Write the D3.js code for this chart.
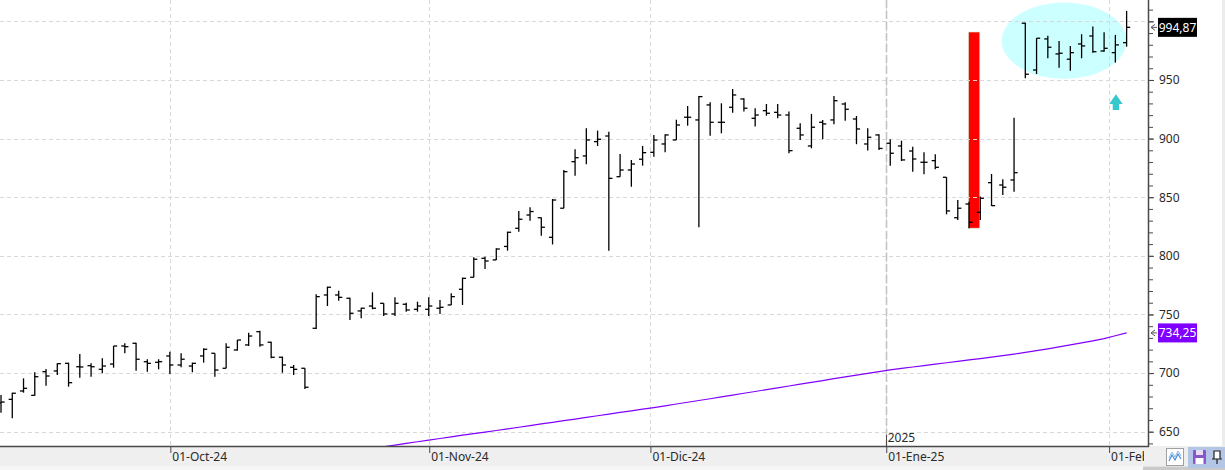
<!DOCTYPE html>
<html><head><meta charset="utf-8">
<script src="https://cdn.jsdelivr.net/npm/d3@7"></script>
<style>html,body{margin:0;padding:0;background:#fff;overflow:hidden}</style>
</head><body>
<svg id="c" width="1225" height="470"></svg>
<script>
// ---------- DATA ----------
const dates = [
"2024-09-10","2024-09-11","2024-09-12","2024-09-13","2024-09-16","2024-09-17","2024-09-18","2024-09-19","2024-09-20","2024-09-23",
"2024-09-24","2024-09-25","2024-09-26","2024-09-27","2024-09-30","2024-10-01","2024-10-02","2024-10-03","2024-10-04","2024-10-07",
"2024-10-08","2024-10-09","2024-10-10","2024-10-11","2024-10-14","2024-10-15","2024-10-16","2024-10-17","2024-10-18","2024-10-21",
"2024-10-22","2024-10-23","2024-10-24","2024-10-25","2024-10-28","2024-10-29","2024-10-30","2024-10-31","2024-11-01","2024-11-04",
"2024-11-05","2024-11-06","2024-11-07","2024-11-08","2024-11-11","2024-11-12","2024-11-13","2024-11-14","2024-11-15","2024-11-18",
"2024-11-19","2024-11-20","2024-11-21","2024-11-22","2024-11-25","2024-11-26","2024-11-27","2024-11-29","2024-12-02","2024-12-03",
"2024-12-04","2024-12-05","2024-12-06","2024-12-09","2024-12-10","2024-12-11","2024-12-12","2024-12-13","2024-12-16","2024-12-17",
"2024-12-18","2024-12-19","2024-12-20","2024-12-23","2024-12-24","2024-12-26","2024-12-27","2024-12-30","2024-12-31","2025-01-02",
"2025-01-03","2025-01-06","2025-01-07","2025-01-08","2025-01-10","2025-01-13","2025-01-14","2025-01-15","2025-01-16","2025-01-17",
"2025-01-21","2025-01-22","2025-01-23","2025-01-24","2025-01-27","2025-01-28","2025-01-29","2025-01-30","2025-01-31","2025-02-03",
"2025-02-04"];

const openV = [674.5,677.6,684.7,681.0,701.2,701.8,708.3,705.4,706.3,703.2,
707.7,723.1,725.4,709.7,709.2,714.6,706.9,706.0,714.6,716.9,
704.1,719.7,724.0,735.3,726.3,713.5,704.9,704.1,738.2,766.6,
766.6,763.8,753.0,757.2,759.5,750.4,758.7,754.4,754.4,755.3,
758.1,771.5,781.7,797.9,796.5,808.0,823.5,834.8,832.5,815.8,
840.6,880.3,885.2,897.4,902.2,867.5,873.2,882.4,888.3,895.4,
898.8,918.2,915.9,928.7,913.9,926.7,933.8,917.3,923.8,922.4,
920.1,908.8,893.7,913.9,915.9,929.5,916.7,895.4,903.1,896.0,
893.7,889.4,879.8,881.2,867.0,832.5,844.2,837.1,862.4,860.4,
864.7,998.4,958.5,985.0,972.2,967.7,980.7,987.5,974.7,973.3,
981.8];

const highV = [681.3,683.3,695.5,700.7,703.5,708.3,708.9,716.3,708.3,712.6,
723.1,725.4,725.9,711.8,711.8,718.2,716.9,708.9,721.1,716.9,
725.4,728.2,734.4,736.2,726.8,714.0,706.9,704.1,767.2,773.7,
770.3,764.3,755.8,768.9,759.5,764.6,760.0,760.9,764.6,762.3,
768.1,781.4,798.8,799.3,806.4,820.6,838.3,841.4,832.7,848.5,
873.2,890.9,908.8,906.8,905.9,886.9,881.8,893.7,903.1,903.8,
916.1,927.8,936.4,931.0,930.1,942.3,934.4,925.9,929.5,929.5,
923.0,913.1,921.0,915.9,936.4,931.0,919.3,908.8,903.8,899.4,
898.2,893.1,888.3,886.6,867.0,847.6,846.2,850.5,869.8,865.3,
917.8,998.9,985.6,987.8,983.3,979.0,989.0,995.5,990.7,988.4,
1008.9];

const lowV = [666.2,661.4,683.3,680.7,689.2,698.4,688.4,696.1,696.9,699.8,
704.6,716.9,702.0,701.2,703.2,699.2,704.9,700.7,708.9,696.9,
704.1,719.1,723.1,722.5,712.6,700.3,698.4,686.4,737.6,757.2,
761.7,745.3,746.7,754.4,748.7,748.7,752.4,752.4,748.7,750.4,
758.1,758.1,781.7,788.8,796.5,804.4,820.6,830.0,817.2,809.7,
840.6,868.4,878.1,893.7,804.4,867.5,859.0,876.9,884.6,888.3,
898.8,911.0,824.4,902.5,904.5,922.1,923.0,910.2,919.5,917.3,
887.5,898.8,891.7,899.4,912.2,915.3,895.2,889.9,890.3,876.9,
880.9,871.8,869.6,873.8,835.4,830.6,823.5,830.6,842.5,851.9,
854.7,951.5,955.1,968.5,960.5,957.9,968.5,973.3,974.1,964.8,
978.4];

const closeV = [675.3,682.8,687.0,696.9,697.5,708.0,691.8,705.2,705.4,706.0,
723.1,722.5,711.8,708.3,709.7,706.9,711.8,708.3,720.3,702.6,
722.0,728.2,731.6,724.0,713.5,706.9,703.2,687.9,765.2,773.2,
764.6,751.0,755.3,755.3,750.4,759.5,753.8,757.2,757.2,756.1,
765.2,780.8,797.1,795.6,805.8,820.1,831.2,837.8,824.4,847.6,
871.8,883.7,898.8,899.4,866.1,873.2,878.3,888.0,898.8,903.1,
911.6,918.2,935.8,913.9,913.9,937.2,925.9,920.1,921.6,920.1,
889.7,903.1,909.7,912.5,932.3,925.0,908.2,901.1,891.6,887.5,
881.8,882.6,879.8,875.5,838.3,840.6,828.6,849.1,842.8,858.5,
870.9,954.9,985.6,977.9,972.8,973.3,979.0,974.1,977.0,979.9,
994.87];

// moving average (visible part, starting at bar index maStart)
const maStart = 34;
const maV = [637.2,638.6,640.0,641.4,642.8,644.2,645.6,647.0,648.4,649.7,
651.0,652.4,653.8,655.2,656.6,658.0,659.4,660.8,662.2,663.6,
665.0,666.4,667.8,669.2,670.6,672.1,673.6,675.1,676.6,678.1,
679.7,681.2,682.8,684.3,685.9,687.4,689.0,690.5,692.1,693.6,
695.2,696.7,698.2,699.7,701.2,702.8,704.0,705.2,706.4,707.6,
708.8,710.0,711.2,712.4,713.6,714.9,716.2,717.6,719.1,720.7,
722.3,724.0,725.7,727.5,729.4,731.8,734.25];

const yTickValues = [650,700,750,800,850,900,950,1000];
const yLabelValues = [650,700,750,800,850,900,950];   // 1000 is hidden under the price tag
const xTickLabels = ["01-Oct-24","01-Nov-24","01-Dic-24","01-Ene-25","01-Feb-25"];
const xTickIndex  = [15, 38, 57.65, 78.6, 98.4];
const yearLabel = "2025";
const yearIndex = 78.6;

// annotations (data space)
const highlightBars = [86, 87];
const highlightPrices = [990.9, 823.6];
const ellipseBars = [88.9, 100.0];
const ellipsePrices = [1016.0, 950.9];
const arrowBar = 99.05;
const arrowPrices = [937.8, 929.5, 924.4];

// ---------- CHART ----------
const svg = d3.select("#c");
const PW = 1148, PH = 446;
const x = d3.scaleLinear().domain([-0.09, 101.9]).range([0, PW]);
const y = d3.scaleLinear().domain([637.8, 1018.2]).range([PH, 0]);
const fmt = v => d3.format(".2f")(v).replace(".", ",");
const FONT = "'Noto Sans', 'Open Sans', sans-serif";

svg.append("rect").attr("width",1225).attr("height",470).attr("fill","#fff");

const defs = svg.append("defs");
defs.append("clipPath").attr("id","plotclip").append("rect").attr("x",0).attr("y",0).attr("width",PW).attr("height",PH);
defs.append("clipPath").attr("id","xlabclip").append("rect").attr("x",0).attr("y",0).attr("width",1144).attr("height",24);

const plot = svg.append("g").attr("clip-path","url(#plotclip)");

plot.append("ellipse")
  .attr("cx", (x(ellipseBars[0])+x(ellipseBars[1]))/2)
  .attr("cy", (y(ellipsePrices[0])+y(ellipsePrices[1]))/2)
  .attr("rx", (x(ellipseBars[1])-x(ellipseBars[0]))/2)
  .attr("ry", (y(ellipsePrices[1])-y(ellipsePrices[0]))/2)
  .attr("fill","#ccffff");

plot.append("rect")
  .attr("x", x(highlightBars[0]) - 0.5)
  .attr("y", y(highlightPrices[0]))
  .attr("width", x(highlightBars[1]) - x(highlightBars[0]))
  .attr("height", y(highlightPrices[1]) - y(highlightPrices[0]))
  .attr("fill","#ff0000").attr("stroke","#c8f0c8").attr("stroke-width",0.6);

plot.append("g").selectAll("line").data(yTickValues).join("line")
  .attr("x1",0).attr("x2",PW)
  .attr("y1",d=>Math.round(y(d))+0.5).attr("y2",d=>Math.round(y(d))+0.5)
  .attr("stroke","#d8d8d8").attr("stroke-dasharray","4,3");
plot.append("g").selectAll("line").data(xTickIndex).join("line")
  .attr("x1",d=>Math.round(x(d))+0.5).attr("x2",d=>Math.round(x(d))+0.5)
  .attr("y1",0).attr("y2",PH)
  .attr("stroke","#d8d8d8").attr("stroke-dasharray","4,3");
plot.append("line")
  .attr("x1",Math.round(x(yearIndex))+0.5).attr("x2",Math.round(x(yearIndex))+0.5)
  .attr("y1",0).attr("y2",PH)
  .attr("stroke","#c4c4c4").attr("stroke-width",1.6).attr("stroke-dasharray","8,3");

plot.append("path")
  .datum(maV)
  .attr("d", d3.line().x((d,i)=>x(i+maStart)).y(d=>y(d)))
  .attr("fill","none").attr("stroke","#8000ff").attr("stroke-width",1.2);

const bars = plot.append("g").attr("stroke","#000").attr("stroke-width",1.3);
const idx = d3.range(closeV.length);
const TK = 3.6;
bars.selectAll("line.hl").data(idx).join("line").attr("class","hl")
  .attr("x1",i=>x(i)).attr("x2",i=>x(i))
  .attr("y1",i=>y(highV[i])).attr("y2",i=>y(lowV[i]));
bars.selectAll("line.op").data(idx).join("line").attr("class","op")
  .attr("x1",i=>x(i)-TK).attr("x2",i=>x(i))
  .attr("y1",i=>y(openV[i])).attr("y2",i=>y(openV[i]));
bars.selectAll("line.cl").data(idx).join("line").attr("class","cl")
  .attr("x1",i=>x(i)).attr("x2",i=>x(i)+TK)
  .attr("y1",i=>y(closeV[i])).attr("y2",i=>y(closeV[i]));

{
  const cx = x(arrowBar), hw = 6.7, sw = 3.2;
  const t = y(arrowPrices[0]), b = y(arrowPrices[1]), s = y(arrowPrices[2]);
  plot.append("path")
    .attr("d",`M${cx},${t} L${cx+hw},${b} L${cx+sw},${b} L${cx+sw},${s} L${cx-sw},${s} L${cx-sw},${b} L${cx-hw},${b} Z`)
    .attr("fill","#36c8cc");
}

// bottom strip
svg.append("rect").attr("x",0).attr("y",PH).attr("width",1225).attr("height",24).attr("fill","#efefef");
svg.append("rect").attr("x",0).attr("y",466).attr("width",1225).attr("height",4).attr("fill","#f6f6f6");
svg.append("rect").attr("x",1143).attr("y",466.5).attr("width",82).attr("height",3.5).attr("fill","#cacaca");
svg.append("rect").attr("x",1222).attr("y",0).attr("width",3).attr("height",PH).attr("fill","#ececec");

svg.append("line").attr("x1",0).attr("x2",PW+1).attr("y1",PH+0.5).attr("y2",PH+0.5).attr("stroke","#4a4a4a").attr("stroke-width",1.5);
svg.append("line").attr("x1",PW+0.5).attr("x2",PW+0.5).attr("y1",0).attr("y2",PH+1).attr("stroke","#4a4a4a").attr("stroke-width",1.5);

const yMinor = d3.range(640, 1020, 10);
const yAxisMinor = d3.axisRight(y).tickValues(yMinor).tickSize(5).tickFormat("");
svg.append("g").attr("transform",`translate(${PW},0)`).call(yAxisMinor)
  .call(g=>g.select(".domain").remove())
  .call(g=>g.selectAll("line").attr("stroke","#4a4a4a"));
const yAxis = d3.axisRight(y).tickValues(yTickValues).tickSize(6).tickPadding(5)
  .tickFormat(d => yLabelValues.includes(d) ? d3.format("d")(d) : "");
svg.append("g").attr("transform",`translate(${PW},0)`).call(yAxis)
  .call(g=>g.select(".domain").remove())
  .call(g=>g.selectAll("line").attr("stroke","#4a4a4a"))
  .call(g=>g.selectAll("text").attr("font-family",FONT).attr("font-size",12).attr("fill","#2a2a2a"));

const xAxis = d3.axisBottom(x).tickValues(xTickIndex).tickSize(7).tickFormat((d,i)=>xTickLabels[i]);
const xg = svg.append("g").attr("transform",`translate(0,${PH})`).attr("clip-path","url(#xlabclip)").call(xAxis);
xg.select(".domain").remove();
xg.selectAll(".tick line").attr("stroke","#4a4a4a").attr("transform","translate(0.5,0)");
xg.selectAll(".tick text").attr("font-family",FONT).attr("font-size",12).attr("fill","#2a2a2a")
  .attr("text-anchor","start").attr("x",2).attr("dy","0.71em").attr("y",6);

svg.append("line").attr("x1",Math.round(x(yearIndex))+0.5).attr("x2",Math.round(x(yearIndex))+0.5)
  .attr("y1",PH-11).attr("y2",PH).attr("stroke","#4a4a4a");
svg.append("text").attr("x",x(yearIndex)+2).attr("y",PH-4).text(yearLabel)
  .attr("font-family",FONT).attr("font-size",12).attr("fill","#2a2a2a");

function valueTag(val, bg) {
  const yy = y(val);
  svg.append("path").attr("d",`M${PW+7},${yy-3} L${PW+3},${yy} L${PW+7},${yy+3} M${PW+3},${yy} L${PW+9},${yy}`)
    .attr("stroke","#555").attr("fill","none").attr("stroke-width",1);
  svg.append("rect").attr("x",PW+10).attr("y",yy-9.5).attr("width",39).attr("height",19).attr("fill",bg);
  svg.append("text").attr("x",PW+29.5).attr("y",yy).attr("dy","0.35em").attr("text-anchor","middle")
    .text(fmt(val)).attr("font-family",FONT).attr("font-size",12).attr("fill","#fff");
}
valueTag(closeV[closeV.length-1], "#000");
valueTag(maV[maV.length-1], "#8000ff");

svg.append("rect").attr("x",1166.5).attr("y",448.5).attr("width",17).attr("height",17).attr("fill","#fff").attr("stroke","#a0a0a0");
svg.append("path").attr("d","M1169,461 L1172,455 L1175,460 L1178,454 L1181,459").attr("stroke","#4a90d9").attr("fill","none").attr("stroke-width",1.2);
svg.append("path").attr("d","M1169,458 L1172,452 L1175,457 L1178,451 L1181,456").attr("stroke","#8ab8e8").attr("fill","none").attr("stroke-width",1);
svg.append("rect").attr("x",1188).attr("y",447).attr("width",37).attr("height",21).attr("fill","#b4c6e6");
svg.append("rect").attr("x",1193).attr("y",450).attr("width",13).attr("height",14).attr("rx",1).attr("fill","#8856c8");
svg.append("rect").attr("x",1196).attr("y",450).attr("width",7).attr("height",5).attr("fill","#e6dcf4");
svg.append("rect").attr("x",1195.5).attr("y",458).attr("width",8).attr("height",6).attr("fill","#ffffff");
svg.append("path").attr("d","M1214,451 L1220,451 L1220,459 L1214,459 Z M1212,459 L1222,459 M1217,459 L1217,464")
  .attr("stroke","#222").attr("fill","#fff").attr("stroke-width",1.2);
</script>
</body></html>
